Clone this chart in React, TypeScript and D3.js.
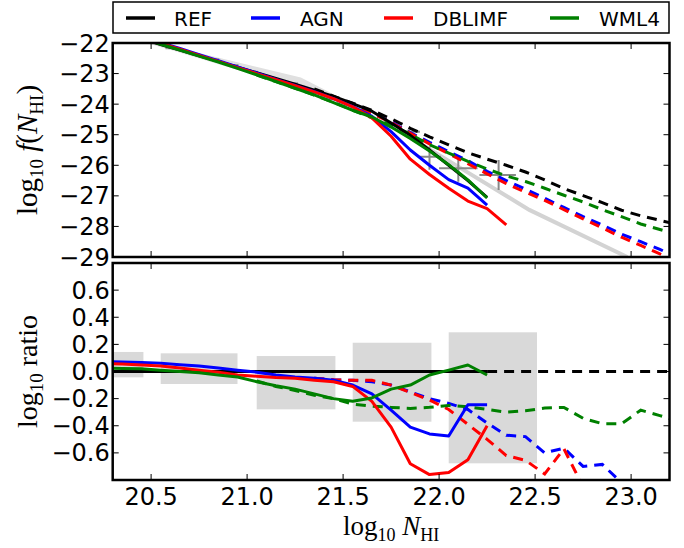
import React from 'react';
import * as d3 from 'd3';

const W = 684, H = 548;

// log10 NHI bin centres shared by every curve
const nhiGrid = [20.25, 20.35, 20.45, 20.55, 20.65, 20.75, 20.85, 20.95, 21.05, 21.15, 21.25, 21.35, 21.45, 21.55, 21.65, 21.75, 21.85, 21.95, 22.05, 22.15, 22.25, 22.35, 22.45, 22.55, 22.65, 22.75, 22.85, 22.95, 23.05, 23.15, 23.25];

const N = null;
// ---- top panel: log10 f(NHI) ----
const refSolid = [-21.47, -21.66, -21.85, -22.05, -22.23, -22.42, -22.6, -22.79, -22.97, -23.16, -23.35, -23.54, -23.75, -23.98, -24.23, -24.62, -25.02, -25.5, -26.0, -26.5, -27.05, N, N, N, N, N, N, N, N, N, N];
const agnSolid = [-21.4, -21.59, -21.78, -21.99, -22.18, -22.38, -22.58, -22.78, -22.98, -23.19, -23.39, -23.59, -23.82, -24.08, -24.4, -24.9, -25.5, -26.0, -26.47, -26.75, -27.3, N, N, N, N, N, N, N, N, N, N];
const dblimfSolid = [-21.41, -21.6, -21.8, -22.01, -22.2, -22.41, -22.6, -22.81, -23.0, -23.2, -23.4, -23.6, -23.82, -24.09, -24.45, -25.05, -25.8, -26.3, -26.75, -27.17, -27.42, -27.95, N, N, N, N, N, N, N, N, N];
const wml4Solid = [-21.44, -21.64, -21.83, -22.04, -22.23, -22.43, -22.62, -22.83, -23.04, -23.26, -23.48, -23.7, -23.95, -24.2, -24.42, -24.75, -25.12, -25.53, -25.98, -26.48, -27.07, N, N, N, N, N, N, N, N, N, N];

const refDashed = [N, N, N, N, N, N, N, N, N, N, N, -23.5, -23.74, -23.97, -24.2, -24.48, -24.79, -25.07, -25.33, -25.59, -25.8, -26.0, -26.22, -26.48, -26.76, -26.99, -27.22, -27.47, -27.65, -27.8, -27.95];
const agnDashed = [N, N, N, N, N, N, N, N, N, N, N, -23.55, -23.8, -24.03, -24.3, -24.58, -24.93, -25.25, -25.55, -25.85, -26.2, -26.5, -26.78, -27.08, -27.38, -27.68, -27.95, -28.25, -28.5, -28.75, -29.05];
const dblimfDashed = [N, N, N, N, N, N, N, N, N, N, N, -23.55, -23.8, -24.03, -24.3, -24.6, -24.95, -25.3, -25.62, -25.95, -26.28, -26.6, -26.88, -27.15, -27.45, -27.75, -28.05, -28.35, -28.62, -28.9, -29.2];
const wml4Dashed = [N, N, N, N, N, N, N, N, -23.05, -23.26, -23.48, -23.7, -23.94, -24.2, -24.45, -24.68, -24.98, -25.33, -25.6, -25.87, -26.12, -26.35, -26.53, -26.75, -26.98, -27.2, -27.45, -27.68, -27.92, -28.1, -28.28];

// ---- bottom panel: log10 ratio to REF ----
const agnSolidRatio = [0.075, 0.07, 0.066, 0.06, 0.05, 0.04, 0.025, 0.01, -0.005, -0.025, -0.04, -0.05, -0.065, -0.1, -0.165, -0.285, -0.41, -0.46, -0.475, -0.245, -0.245, N, N, N, N, N, N, N, N, N, N];
const dblimfSolidRatio = [0.06, 0.055, 0.048, 0.04, 0.025, 0.01, -0.005, -0.025, -0.035, -0.045, -0.05, -0.065, -0.075, -0.11, -0.22, -0.41, -0.68, -0.76, -0.745, -0.65, -0.40, N, N, N, N, N, N, N, N, N, N];
const wml4SolidRatio = [0.025, 0.023, 0.02, 0.01, 0.0, -0.01, -0.025, -0.04, -0.075, -0.105, -0.13, -0.165, -0.2, -0.22, -0.195, -0.13, -0.1, -0.026, 0.01, 0.048, -0.026, N, N, N, N, N, N, N, N, N, N];

const agnDashedRatio = [N, N, N, N, N, N, N, N, N, N, N, -0.05, -0.06, -0.065, -0.075, -0.1, -0.15, -0.2, -0.235, -0.28, -0.38, -0.47, -0.48, -0.6, -0.565, -0.7, -0.685, -0.82, -0.95, -1.0, -1.08];
const dblimfDashedRatio = [N, N, N, N, N, N, N, N, N, N, N, -0.05, -0.06, -0.065, -0.065, -0.1, -0.155, -0.21, -0.28, -0.39, -0.5, -0.62, -0.655, -0.755, -0.57, -0.85, -0.95, -1.0, -1.05, -1.1, -1.15];
const wml4DashedRatio = [N, N, N, N, N, N, N, N, -0.07, -0.11, -0.14, -0.175, -0.2, -0.24, -0.255, -0.265, -0.272, -0.264, -0.25, -0.26, -0.28, -0.3, -0.29, -0.27, -0.265, -0.345, -0.385, -0.385, -0.285, -0.325, -0.37];

// ---- observations (grey) ----
const obsLowX = [20.6, 20.73, 20.83, 20.93, 21.03, 21.13, 21.24, 21.34, 21.43];
const obsLowY = [-22.17, -22.37, -22.53, -22.72, -22.94, -23.15, -23.32, -23.59, -23.84];
const obsLowHalfWidth = 0.025;
const obsHighX = [21.77, 21.84, 21.95, 22.1, 22.31];
const obsHighXLo = [21.74, 21.8, 21.9, 22.0, 22.21];
const obsHighXHi = [21.81, 21.9, 22.01, 22.2, 22.4];
const obsHighY = [-24.63, -24.9, -25.72, -26.1, -26.32];
const obsHighYLo = [-24.7, -24.97, -26.15, -26.54, -26.81];
const obsHighYHi = [-24.56, -24.83, -25.39, -25.66, -25.83];

const bandX = [20.25, 20.6, 20.96, 21.28, 21.45, 21.6, 21.8];
const bandHi = [-21.5, -22.1, -22.65, -23.13, -23.68, -24.15, -24.85];
const bandLo = [-21.6, -22.22, -22.9, -23.4, -23.8, -24.25, -24.95];
const fitX = [21.8, 22.14, 22.47, 22.98];
const fitY = [-24.9, -26.2, -27.46, -29.0];

const boxX0 = [20.05, 20.55, 21.05, 21.55, 22.05];
const boxX1 = [20.46, 20.95, 21.46, 21.96, 22.51];
const boxLo = [-0.043, -0.092, -0.279, -0.37, -0.677];
const boxHi = [0.144, 0.134, 0.114, 0.212, 0.289];

const xTicks = [20.5, 21.0, 21.5, 22.0, 22.5, 23.0];
const yTopTicks = [-22, -23, -24, -25, -26, -27, -28, -29];
const yBotTicks = [0.6, 0.4, 0.2, 0.0, -0.2, -0.4, -0.6];

const series = ['REF', 'AGN', 'DBLIMF', 'WML4'];
const colors = ['#000000', '#0000ff', '#ff0000', '#008000'];

const minus = (s: string) => s.replace('-', '\u2212');

export default function App() {
  const L = 112.7, R = 669.5;
  const T1 = 43, B1 = 257, T2 = 263, B2 = 480;
  const x = d3.scaleLinear().domain([20.3, 23.2]).range([L, R]);
  const yT = d3.scaleLinear().domain([-29, -22]).range([B1, T1]);
  const yB = d3.scaleLinear().domain([-0.8, 0.8]).range([B2, T2]);

  const mk = (ys: (number | null)[], ys2: d3.ScaleLinear<number, number>) =>
    d3.line<number>()
      .defined((_, i) => ys[i] != null)
      .x(d => x(d))
      .y((_, i) => ys2(ys[i] as number))(nhiGrid) || '';

  const refSolidRatio = refSolid.map(v => (v == null ? null : 0));
  const refDashedRatio = refDashed.map((v, i) => (v == null || i < 20 ? null : 0));

  const topSolid = [refSolid, agnSolid, dblimfSolid, wml4Solid];
  const topDashed = [refDashed, agnDashed, dblimfDashed, wml4Dashed];
  const botSolid = [refSolidRatio, agnSolidRatio, dblimfSolidRatio, wml4SolidRatio];
  const botDashed = [refDashedRatio, agnDashedRatio, dblimfDashedRatio, wml4DashedRatio];

  const bandPts: [number, number][] = [
    ...bandX.map((v, i) => [x(v), yT(bandHi[i])] as [number, number]),
    ...bandX.map((v, i) => [x(v), yT(bandLo[i])] as [number, number]).reverse(),
  ];
  const fitPath = d3.line<number>().x(d => x(d)).y((_, i) => yT(fitY[i]))(fitX) || '';

  const lw = 3;
  const dash = '10,7';
  const tickFont = "'DejaVu Sans', sans-serif";
  const serif = "'Liberation Serif', 'DejaVu Serif', serif";

  const xTickMarks = (top: number, bottom: number) =>
    xTicks.map(t => (
      <g key={`xt${top}-${t}`}>
        <line x1={x(t)} x2={x(t)} y1={bottom} y2={bottom - 6} stroke="#000" strokeWidth={1} />
        <line x1={x(t)} x2={x(t)} y1={top} y2={top + 6} stroke="#000" strokeWidth={1} />
      </g>
    ));
  const yTickMarks = (ticks: number[], ys: d3.ScaleLinear<number, number>, k: string) =>
    ticks.map(t => (
      <g key={`${k}${t}`}>
        <line x1={L} x2={L + 6} y1={ys(t)} y2={ys(t)} stroke="#000" strokeWidth={1} />
        <line x1={R} x2={R - 6} y1={ys(t)} y2={ys(t)} stroke="#000" strokeWidth={1} />
      </g>
    ));

  const legendHandleX = [126, 251, 384, 550];
  const legendTextX = [174, 300, 433, 599];

  return (
    <svg width={W} height={H} style={{ position: 'absolute', left: 0, top: 0, background: '#fff' }}>
      <defs>
        <clipPath id="cTop"><rect x={L} y={T1} width={R - L} height={B1 - T1} /></clipPath>
        <clipPath id="cBot"><rect x={L} y={T2} width={R - L} height={B2 - T2} /></clipPath>
      </defs>
      <rect x={0} y={0} width={W} height={H} fill="#fff" />

      {/* legend */}
      <rect x={113} y={2} width={556} height={31} fill="#fff" stroke="#000" strokeWidth={1.5} />
      {series.map((s, i) => (
        <g key={s}>
          <line x1={legendHandleX[i]} x2={legendHandleX[i] + 29} y1={18} y2={18} stroke={colors[i]} strokeWidth={3.5} />
          <text x={legendTextX[i]} y={25.5} fontFamily={tickFont} fontSize={20}>{s}</text>
        </g>
      ))}

      {/* top panel */}
      <g clipPath="url(#cTop)">
        <polygon points={bandPts.map(p => p.join(',')).join(' ')} fill="#e0e0e0" />
        <path d={fitPath} fill="none" stroke="#d3d3d3" strokeWidth={4} />
        {obsLowX.map((v, i) => (
          <line key={`ol${i}`} x1={x(v - obsLowHalfWidth)} x2={x(v + obsLowHalfWidth)} y1={yT(obsLowY[i])} y2={yT(obsLowY[i])} stroke="#999" strokeWidth={2} />
        ))}
        {obsHighX.map((v, i) => (
          <g key={`oh${i}`}>
            <line x1={x(obsHighXLo[i])} x2={x(obsHighXHi[i])} y1={yT(obsHighY[i])} y2={yT(obsHighY[i])} stroke="#888" strokeWidth={2} />
            <line x1={x(v)} x2={x(v)} y1={yT(obsHighYLo[i])} y2={yT(obsHighYHi[i])} stroke="#888" strokeWidth={2} />
          </g>
        ))}
        {topDashed.map((ys, i) => (
          <path key={`td${i}`} d={mk(ys, yT)} fill="none" stroke={colors[i]} strokeWidth={lw} strokeDasharray={dash} />
        ))}
        {topSolid.map((ys, i) => (
          <path key={`ts${i}`} d={mk(ys, yT)} fill="none" stroke={colors[i]} strokeWidth={lw} strokeLinejoin="round" />
        ))}
      </g>

      {/* bottom panel */}
      <g clipPath="url(#cBot)">
        {boxX0.map((v, i) => (
          <rect key={`bx${i}`} x={x(v)} y={yB(boxHi[i])} width={x(boxX1[i]) - x(v)} height={yB(boxLo[i]) - yB(boxHi[i])} fill="#d9d9d9" />
        ))}
        {botDashed.map((ys, i) => (
          <path key={`bd${i}`} d={mk(ys, yB)} fill="none" stroke={colors[i]} strokeWidth={lw} strokeDasharray={dash} />
        ))}
        {botSolid.map((ys, i) => (
          <path key={`bs${i}`} d={mk(ys, yB)} fill="none" stroke={colors[i]} strokeWidth={lw} strokeLinejoin="round" />
        ))}
      </g>

      {/* ticks */}
      {xTickMarks(T1, B1)}
      {xTickMarks(T2, B2)}
      {yTickMarks(yTopTicks, yT, 'yt')}
      {yTickMarks(yBotTicks, yB, 'yb')}

      {/* spines */}
      <rect x={L} y={T1} width={R - L} height={B1 - T1} fill="none" stroke="#000" strokeWidth={2.5} />
      <rect x={L} y={T2} width={R - L} height={B2 - T2} fill="none" stroke="#000" strokeWidth={2.5} />

      {/* tick labels */}
      {yTopTicks.map(t => (
        <text key={`ytl${t}`} x={L - 3} y={yT(t) + 8.5} textAnchor="end" fontFamily={tickFont} fontSize={24}>{minus(String(t))}</text>
      ))}
      {yBotTicks.map(t => (
        <text key={`ybl${t}`} x={L - 3} y={yB(t) + 8.5} textAnchor="end" fontFamily={tickFont} fontSize={24}>{minus(t.toFixed(1))}</text>
      ))}
      {xTicks.map(t => (
        <text key={`xtl${t}`} x={x(t)} y={505} textAnchor="middle" fontFamily={tickFont} fontSize={24}>{t.toFixed(1)}</text>
      ))}

      {/* axis labels */}
      <text x={(L + R) / 2} y={535} textAnchor="middle" fontFamily={serif} fontSize={27}>
        log<tspan dy={6} fontSize={18}>10</tspan><tspan dy={-6}>{' '}</tspan><tspan fontStyle="italic">N</tspan><tspan dy={6} fontSize={18}>HI</tspan>
      </text>
      <text transform={`translate(37,${(T1 + B1) / 2}) rotate(-90)`} textAnchor="middle" fontFamily={serif} fontSize={29}>
        log<tspan dy={6} fontSize={19}>10</tspan><tspan dy={-6}>{' '}</tspan><tspan fontStyle="italic">f</tspan>(<tspan fontStyle="italic">N</tspan><tspan dy={6} fontSize={19}>HI</tspan><tspan dy={-6}>)</tspan>
      </text>
      <text transform={`translate(37,${(T2 + B2) / 2}) rotate(-90)`} textAnchor="middle" fontFamily={serif} fontSize={28}>
        log<tspan dy={6} fontSize={19}>10</tspan><tspan dy={-6}>{' ratio'}</tspan>
      </text>
    </svg>
  );
}
